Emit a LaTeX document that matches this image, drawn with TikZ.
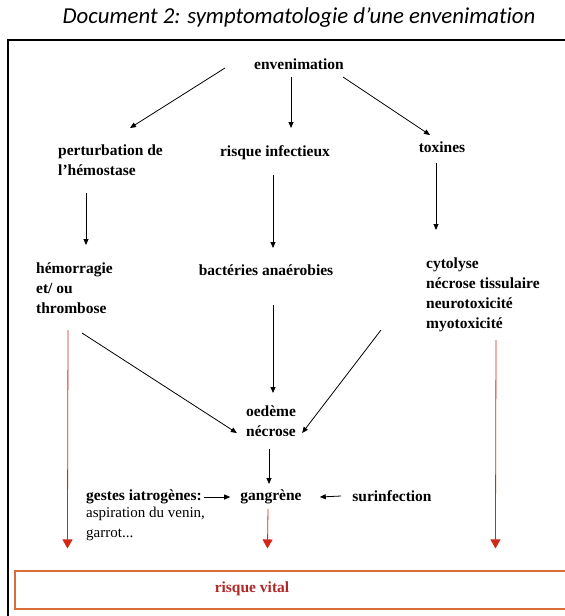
\documentclass[tikz,border=0pt]{standalone}
\usepackage{fontspec}
\setmainfont{Liberation Serif}
\newfontfamily\titlefont[Ligatures=NoCommon]{Carlito}
\usetikzlibrary{arrows.meta,calc}
\definecolor{arrred}{RGB}{210,40,25}
\definecolor{boxred}{RGB}{215,110,60}
\definecolor{vitalred}{RGB}{175,40,40}
\tikzset{
  txt/.style={font=\bfseries\fontsize{15.5}{20}\selectfont, inner sep=0pt},
  plain/.style={font=\fontsize{15}{20}\selectfont, inner sep=0pt, align=left},
  arr/.style={-{Triangle[length=6pt,width=5pt]}, line width=0.8pt, black},
  redarr/.style={-{Triangle[length=9pt,width=10pt]}, line width=0.8pt, arrred},
  vitalbox/.style={draw=boxred, line width=1.1pt, minimum width=585pt, minimum height=38pt, inner sep=0pt}
}
\begin{document}
\begin{tikzpicture}[x=1pt,y=-1pt]
\useasboundingbox (0,0) rectangle (565,616);
% title
\node[font=\titlefont\itshape\fontsize{22.8}{26}\selectfont, inner sep=0pt] (title) at (299,18) {Document 2: symptomatologie d’une envenimation};
% frame
\draw[line width=1.8pt] (8,620) -- (8,40) -- (570,40);
% nodes
\node[txt] (env) at (299,64) {envenimation};
\node[txt, anchor=west, align=left] (pert) at (58,160) {perturbation de\\l'hémostase};
\node[txt] (inf) at (275,153) {risque infectieux};
\node[txt] (tox) at (442,147) {toxines};
\node[txt, anchor=west, align=left] (hem) at (36,288) {hémorragie\\et/ ou\\thrombose};
\node[txt] (bact) at (266,270) {bactéries anaérobies};
\node[txt, anchor=west, align=left] (cyt) at (426,295) {cytolyse\\nécrose tissulaire\\neurotoxicité\\myotoxicité};
\node[txt, align=center] (oed) at (271,421) {oedème\\nécrose};
\node[txt] (gang) at (271,497) {gangrène};
\node[txt, anchor=west] (gest) at (86,497) {gestes iatrogènes:};
\node[plain, anchor=north west] (asp) at (86,507) {aspiration du venin,\\garrot...};
\node[txt] (sur) at (392,496) {surinfection};
\node[vitalbox] (vital) at (307.5,590) {};
\node[txt, text=vitalred] (vitaltxt) at (252,589) {risque vital};
% black arrows
\draw[arr] ($(env)+(-74,4)$) -- ($(pert.west)+(72,-32)$);
\draw[arr] ($(env)+(-8,13)$) -- ($(inf)+(16,-25)$);
\draw[arr] ($(env)+(44,13)$) -- ($(tox)+(-12,-12)$);
\draw[arr] ($(pert.west)+(28,33)$) -- ($(hem.west)+(50,-43)$);
\draw[arr] ($(inf)+(-2,22)$) -- ($(bact)+(7,-22)$);
\draw[arr] ($(tox)+(-6,16)$) -- ($(cyt.west)+(10,-65)$);
\draw[arr] ($(hem.west)+(46,45)$) -- ($(oed.west)+(-9,12)$);
\draw[arr] ($(bact)+(7,35)$) -- ($(oed)+(2,-28)$);
\draw[arr] ($(cyt.west)+(-45,35)$) -- ($(oed.east)+(6,12)$);
\draw[arr] ($(oed)+(-2,28)$) -- ($(gang)+(-2,-13)$);
\draw[arr] ($(gest.east)+(2,0)$) -- ($(gang.west)+(-10,0)$);
\draw[arr] ($(sur.west)+(-11,0)$) -- ($(gang.east)+(18,0)$);
% red arrows
\draw[redarr] ($(hem.west)+(32,42)$) -- ($(vital.north west)+(53,-22)$);
\draw[redarr] ($(gang)+(-3,12)$) -- ($(vital.north west)+(253,-22)$);
\draw[redarr] ($(cyt.west)+(70,45)$) -- ($(vital.north west)+(481,-22)$);
\end{tikzpicture}
\end{document}
